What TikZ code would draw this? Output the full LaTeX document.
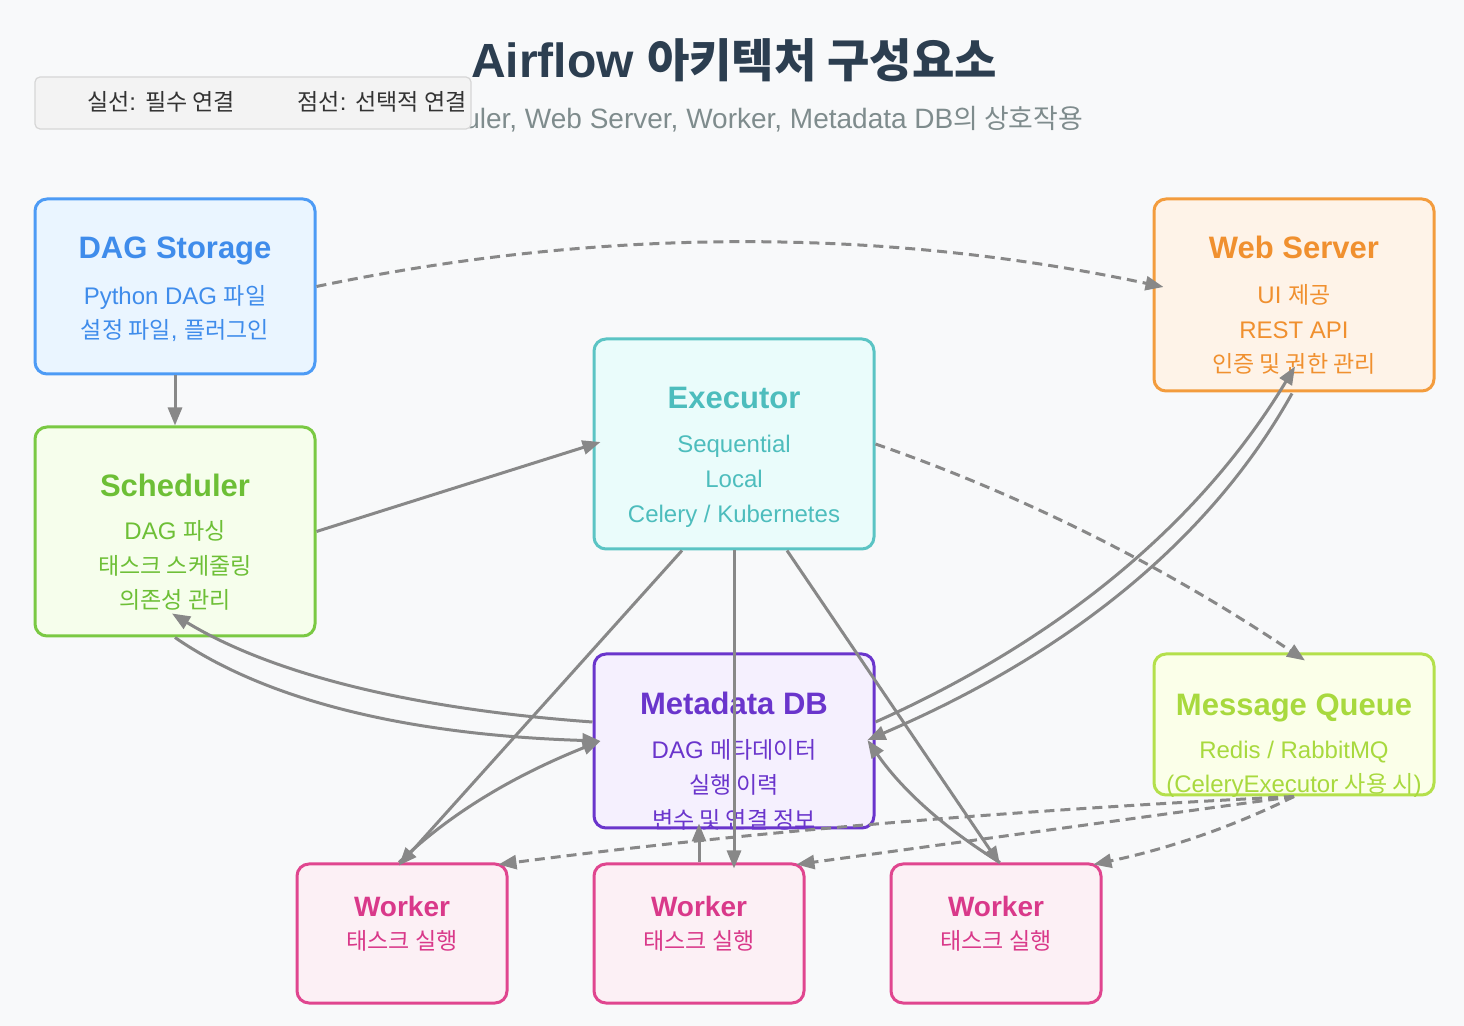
\documentclass[tikz,border=0pt]{standalone}
\usepackage{fontspec}
\setmainfont{Liberation Sans}
\newfontfamily\kr[Scale=0.96]{Noto Sans CJK KR}
\usetikzlibrary{arrows.meta,calc}
\newcommand{\K}[1]{{\kr #1}}
\definecolor{bgC}{HTML}{F8F9FA}
\definecolor{titleC}{HTML}{2C3E50}
\definecolor{subC}{HTML}{7F8C8D}
\definecolor{legB}{HTML}{D6D6D6}
\definecolor{legF}{HTML}{F3F3F3}
\definecolor{legT}{HTML}{333333}
\definecolor{lineC}{HTML}{888888}
\definecolor{dsS}{HTML}{4D9BF5}\definecolor{dsF}{HTML}{EAF5FF}\definecolor{dsT}{HTML}{3F8CEB}
\definecolor{wsS}{HTML}{F39C3D}\definecolor{wsF}{HTML}{FEF3E8}\definecolor{wsT}{HTML}{F0902F}
\definecolor{exS}{HTML}{5BC4C4}\definecolor{exF}{HTML}{EAFCFB}\definecolor{exT}{HTML}{4DBDBD}
\definecolor{scS}{HTML}{7AC943}\definecolor{scF}{HTML}{F6FEEC}\definecolor{scT}{HTML}{6DBF36}
\definecolor{dbS}{HTML}{6A35CC}\definecolor{dbF}{HTML}{F5F0FE}\definecolor{dbT}{HTML}{6A35CC}
\definecolor{mqS}{HTML}{B4E04B}\definecolor{mqF}{HTML}{FBFFE9}\definecolor{mqT}{HTML}{A8D93E}
\definecolor{wkS}{HTML}{E0468F}\definecolor{wkF}{HTML}{FCF0F5}\definecolor{wkT}{HTML}{D9398A}
\begin{document}
\begin{tikzpicture}[x=0.5pt,y=-0.5pt,
  box/.style 2 args={draw=#1, fill=#2, line width=1.5pt, rounded corners=6pt, inner sep=0pt},
  ttl/.style={anchor=base, font=\fontsize{15.5}{18}\selectfont\bfseries},
  bdy/.style={anchor=base, font=\fontsize{12}{14}\selectfont},
  wttl/.style={anchor=base, font=\fontsize{14}{16}\selectfont\bfseries},
  conn/.style={draw=lineC, line width=1.5pt, -{Triangle[length=9pt,width=7pt]}},
  dsh/.style={conn, dash pattern=on 5pt off 3pt}]
\useasboundingbox (0,0) rectangle (1464,1026);
\fill[bgC] (0,0) rectangle (1464,1026);
% title
\node[anchor=base, font=\fontsize{14}{16}\selectfont, text=subC] (sub) at (734,129) {Scheduler, Web Server, Worker, Metadata DB\K{의 상호작용}};
\node[anchor=base, font=\fontsize{24}{28}\selectfont\bfseries, text=titleC] (title) at (734,78) {Airflow \K{아키텍처 구성요소}};
% legend
\node[draw=legB, fill=legF, line width=0.6pt, rounded corners=2.5pt, minimum width=218pt, minimum height=26pt, inner sep=0pt] (leg) at (253,103) {};
\node[anchor=base, font=\fontsize{12}{14}\selectfont, text=legT] (leg1) at (161,111) {\K{실선}: \K{필수 연결}};
\node[anchor=base, font=\fontsize{12}{14}\selectfont, text=legT] (leg2) at (382,111) {\K{점선}: \K{선택적 연결}};
% boxes
\node[box={dsS}{dsF}, minimum width=140pt, minimum height=87.5pt] (ds) at (175,286.5) {};
\node[box={wsS}{wsF}, minimum width=140pt, minimum height=96pt] (ws) at (1294,295) {};
\node[box={exS}{exF}, minimum width=140pt, minimum height=105pt] (ex) at (734,444) {};
\node[box={scS}{scF}, minimum width=140pt, minimum height=104.5pt] (sch) at (175,531.5) {};
\node[box={dbS}{dbF}, minimum width=140pt, minimum height=87pt] (db) at (734,741) {};
\node[box={mqS}{mqF}, minimum width=140pt, minimum height=70.5pt] (mq) at (1294,724.5) {};
\node[box={wkS}{wkF}, minimum width=105pt, minimum height=69.5pt] (w1) at (402,933.5) {};
\node[box={wkS}{wkF}, minimum width=105pt, minimum height=69.5pt] (w2) at (699,933.5) {};
\node[box={wkS}{wkF}, minimum width=105pt, minimum height=69.5pt] (w3) at (996,933.5) {};
% texts
\node[ttl, text=dsT] (dsA) at (175,259) {DAG Storage};
\node[bdy, text=dsT] (dsB) at (175,305) {Python DAG \K{파일}};
\node[bdy, text=dsT] (dsC) at (175,339) {\K{설정 파일}, \K{플러그인}};
\node[ttl, text=wsT] (wsA) at (1294,259) {Web Server};
\node[bdy, text=wsT] (wsB) at (1294,304) {UI \K{제공}};
\node[bdy, text=wsT] (wsC) at (1294,339) {REST API};
\node[bdy, text=wsT] (wsD) at (1294,373) {\K{인증 및 권한 관리}};
\node[ttl, text=exT] (exA) at (734,409) {Executor};
\node[bdy, text=exT] (exB) at (734,453) {Sequential};
\node[bdy, text=exT] (exC) at (734,488) {Local};
\node[bdy, text=exT] (exD) at (734,523) {Celery / Kubernetes};
\node[ttl, text=scT] (scA) at (175,497) {Scheduler};
\node[bdy, text=scT] (scB) at (175,540) {DAG \K{파싱}};
\node[bdy, text=scT] (scC) at (175,575) {\K{태스크 스케줄링}};
\node[bdy, text=scT] (scD) at (175,609) {\K{의존성 관리}};
\node[ttl, text=dbT] (dbA) at (734,715) {Metadata DB};
\node[bdy, text=dbT] (dbB) at (734,759) {DAG \K{메타데이터}};
\node[bdy, text=dbT] (dbC) at (734,794) {\K{실행 이력}};
\node[bdy, text=dbT] (dbD) at (734,828) {\K{변수 및 연결 정보}};
\node[ttl, text=mqT] (mqA) at (1294,716) {Message Queue};
\node[bdy, text=mqT] (mqB) at (1294,759) {Redis / RabbitMQ};
\node[bdy, text=mqT] (mqC) at (1294,793) {(CeleryExecutor \K{사용 시})};
\node[wttl, text=wkT] (w1A) at (402,916) {Worker};
\node[bdy, text=wkT] (w1B) at (402,950) {\K{태스크 실행}};
\node[wttl, text=wkT] (w2A) at (699,916) {Worker};
\node[bdy, text=wkT] (w2B) at (699,950) {\K{태스크 실행}};
\node[wttl, text=wkT] (w3A) at (996,916) {Worker};
\node[bdy, text=wkT] (w3B) at (996,950) {\K{태스크 실행}};
% connectors
\draw[dsh] (ds.east) .. controls +(283,-59) and +(-283,-60) .. ($(ws.west)+(11,-8)$);
\draw[conn] (ds.south) -- (sch.north);
\draw[conn] (sch.east) -- ($(ex.west)+(8,-2)$);
\draw[dsh] (ex.east) .. controls +(147,51) and +(-140,-94) .. ($(mq.north)+(11,8)$);
\draw[conn] ($(ex.south)+(-52,0)$) -- ($(w1.north)+(-3,3)$);
\draw[conn] (ex.south) -- ($(w2.north)+(35,6)$);
\draw[conn] ($(ex.south)+(53,0)$) -- ($(w3.north)+(4,2)$);
\draw[conn] ($(w1.north)+(-3,0)$) .. controls +(55,-53) and +(-80,32) .. ($(db.west)+(8,0)$);
\draw[conn] (w2.north) -- ($(db.south)+(-35,-6)$);
\draw[conn] ($(w3.north)+(4,0)$) .. controls +(-57,-35) and +(33,48) .. ($(db.east)+(-8,-1)$);
\draw[conn] ($(db.west)+(0,-19)$) .. controls +(-180,-13) and +(101,61) .. ($(sch.south)+(-3,-24)$);
\draw[conn] (sch.south) .. controls +(91,63) and +(-193,-6) .. ($(db.west)+(8,0)$);
\draw[conn] ($(db.east)+(0,-19)$) .. controls +(188,-84) and +(-93,154) .. ($(ws.south)+(1,-26)$);
\draw[conn] ($(ws.south)+(-2,1)$) .. controls +(-81,145) and +(203,-87) .. ($(db.east)+(-8,-1)$);
\draw[dsh] (mq.south) .. controls +(-263,13) and +(268,-35) .. ($(w1.north east)+(-10,2)$);
\draw[dsh] (mq.south) -- ($(w2.north east)+(-9,2)$);
\draw[dsh] (mq.south) .. controls +(-73,36) and +(62,-13) .. ($(w3.north east)+(-9,2)$);
\end{tikzpicture}
\end{document}
